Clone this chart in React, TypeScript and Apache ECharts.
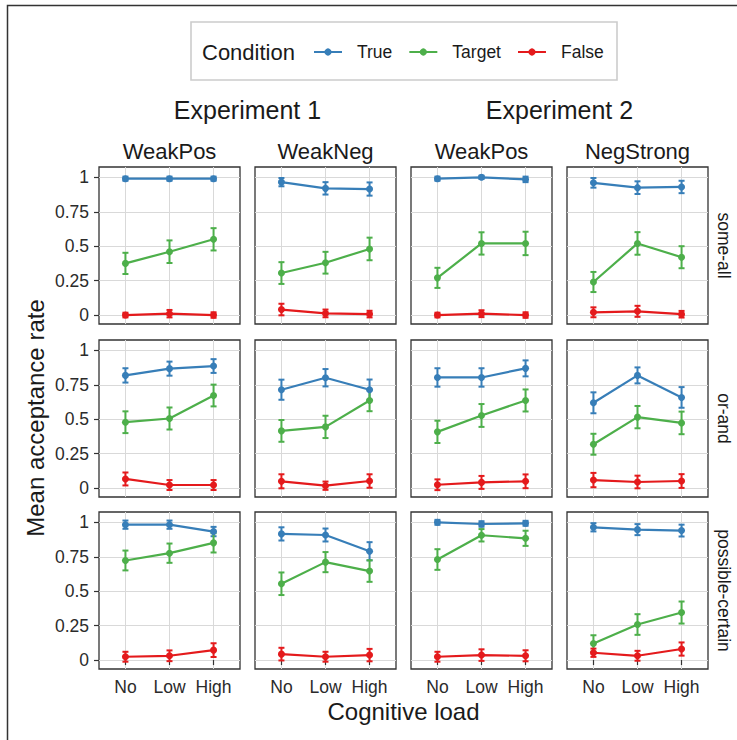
import React, { useEffect, useRef } from "react";
import * as echarts from "echarts";

// ---------- data ----------
const loads = ["No", "Low", "High"];
const experiments = ["Experiment 1", "Experiment 2"];
const panelTitles = ["WeakPos", "WeakNeg", "WeakPos", "NegStrong"];
const rowLabels = ["some-all", "or-and", "possible-certain"];
const conditions = ["True", "Target", "False"];
const yTicks = [0, 0.25, 0.5, 0.75, 1];

// [row][panel][load]
const trueMean = [
  [[0.99, 0.99, 0.99], [0.965, 0.92, 0.915], [0.99, 1.0, 0.985], [0.96, 0.925, 0.93]],
  [[0.818, 0.867, 0.886], [0.714, 0.801, 0.714], [0.803, 0.803, 0.869], [0.619, 0.818, 0.658]],
  [[0.983, 0.983, 0.933], [0.916, 0.908, 0.79], [1.0, 0.988, 0.993], [0.964, 0.947, 0.94]],
];
const trueErr = [
  [[0.015, 0.015, 0.015], [0.03, 0.045, 0.048], [0.015, 0.012, 0.02], [0.035, 0.046, 0.045]],
  [[0.052, 0.051, 0.05], [0.073, 0.063, 0.074], [0.067, 0.067, 0.058], [0.076, 0.058, 0.075]],
  [[0.03, 0.03, 0.034], [0.048, 0.047, 0.066], [0.018, 0.02, 0.018], [0.03, 0.04, 0.043]],
];
const targetMean = [
  [[0.375, 0.46, 0.55], [0.305, 0.38, 0.48], [0.27, 0.52, 0.52], [0.24, 0.52, 0.42]],
  [[0.478, 0.505, 0.672], [0.415, 0.444, 0.636], [0.408, 0.527, 0.636], [0.318, 0.515, 0.473]],
  [[0.723, 0.776, 0.851], [0.554, 0.711, 0.646], [0.73, 0.906, 0.884], [0.12, 0.258, 0.345]],
];
const targetErr = [
  [[0.077, 0.082, 0.081], [0.079, 0.079, 0.082], [0.073, 0.081, 0.085], [0.073, 0.082, 0.08]],
  [[0.079, 0.08, 0.079], [0.079, 0.081, 0.078], [0.081, 0.083, 0.08], [0.076, 0.081, 0.082]],
  [[0.072, 0.07, 0.07], [0.082, 0.073, 0.078], [0.075, 0.045, 0.055], [0.06, 0.075, 0.08]],
];
const falseMean = [
  [[0.0, 0.01, 0.0], [0.04, 0.012, 0.007], [0.0, 0.01, 0.0], [0.02, 0.027, 0.006]],
  [[0.066, 0.022, 0.022], [0.049, 0.017, 0.051], [0.024, 0.041, 0.049], [0.058, 0.044, 0.051]],
  [[0.024, 0.031, 0.072], [0.043, 0.024, 0.036], [0.024, 0.036, 0.031], [0.053, 0.031, 0.08]],
];
const falseErr = [
  [[0.017, 0.027, 0.02], [0.042, 0.028, 0.024], [0.017, 0.025, 0.02], [0.036, 0.04, 0.024]],
  [[0.047, 0.036, 0.036], [0.051, 0.03, 0.049], [0.039, 0.047, 0.05], [0.052, 0.046, 0.05]],
  [[0.036, 0.039, 0.05], [0.046, 0.036, 0.045], [0.036, 0.042, 0.04], [0.03, 0.036, 0.048]],
];

// ---------- style / layout ----------
const colors = ["#377EB8", "#4DAF4A", "#E41A1C"];
const FONT = "Liberation Sans, Arial, Helvetica, sans-serif";
const colLeft = [99, 255, 411, 567];
const panelW = 141;
const rowTop = [167, 340, 512];
const panelH = 157;

function buildOption() {
  const grids: any[] = [];
  const xAxes: any[] = [];
  const yAxes: any[] = [];
  const series: any[] = [];
  const means = [trueMean, targetMean, falseMean];
  const errs = [trueErr, targetErr, falseErr];

  let idx = 0;
  for (let r = 0; r < 3; r++) {
    for (let c = 0; c < 4; c++) {
      grids.push({
        left: colLeft[c],
        top: rowTop[r],
        width: panelW,
        height: panelH,
        show: true,
        borderColor: "#333333",
        borderWidth: 1.3,
        backgroundColor: "#ffffff",
        containLabel: false,
      });
      const bottomRow = r === 2;
      const leftCol = c === 0;
      xAxes.push({
        type: "value",
        gridIndex: idx,
        min: 0.4,
        max: 3.6,
        axisLine: { show: false },
        axisTick: {
          show: bottomRow,
          customValues: [1, 2, 3],
          length: 5,
          lineStyle: { color: "#333333", width: 1.2 },
        },
        axisLabel: {
          show: bottomRow,
          customValues: [1, 2, 3],
          formatter: (v: number) => loads[Math.round(v) - 1] ?? "",
          fontSize: 17.5,
          fontFamily: FONT,
          color: "#2b2b2b",
          margin: 9,
        },
        splitLine: { show: true, lineStyle: { color: "#d9d9d9", width: 1 } },
      });
      yAxes.push({
        type: "value",
        gridIndex: idx,
        min: -0.065,
        max: 1.075,
        axisLine: { show: false },
        axisTick: {
          show: leftCol,
          customValues: yTicks,
          length: 5,
          lineStyle: { color: "#333333", width: 1.2 },
        },
        axisLabel: {
          show: leftCol,
          customValues: yTicks,
          formatter: (v: number) => String(v),
          fontSize: 17.5,
          fontFamily: FONT,
          color: "#2b2b2b",
          margin: 10,
        },
        splitLine: { show: true, lineStyle: { color: "#d9d9d9", width: 1 } },
      });

      for (let k = 0; k < 3; k++) {
        const m = means[k][r][c];
        const e = errs[k][r][c];
        const color = colors[k];
        series.push({
          type: "custom",
          name: conditions[k] + " error",
          xAxisIndex: idx,
          yAxisIndex: idx,
          silent: true,
          encode: { x: 0, y: [1, 2] },
          data: m.map((v, i) => [i + 1, v - e[i], v + e[i]]),
          renderItem: (params: any, api: any) => {
            const x = api.value(0);
            const top = api.coord([x, api.value(2)]);
            const bot = api.coord([x, api.value(1)]);
            const hw = 3;
            const style = { stroke: color, lineWidth: 2 };
            return {
              type: "group",
              children: [
                { type: "line", shape: { x1: top[0], y1: top[1], x2: bot[0], y2: bot[1] }, style },
                { type: "line", shape: { x1: top[0] - hw, y1: top[1], x2: top[0] + hw, y2: top[1] }, style },
                { type: "line", shape: { x1: bot[0] - hw, y1: bot[1], x2: bot[0] + hw, y2: bot[1] }, style },
              ],
            };
          },
        });
        series.push({
          type: "line",
          name: conditions[k],
          xAxisIndex: idx,
          yAxisIndex: idx,
          data: m.map((v, i) => [i + 1, v]),
          symbol: "circle",
          symbolSize: 7,
          showSymbol: true,
          silent: true,
          lineStyle: { color, width: 2.2 },
          itemStyle: { color },
          emphasis: { disabled: true },
        });
      }
      idx++;
    }
  }

  const graphics: any[] = [
    {
      type: "rect",
      shape: { x: 7.5, y: 5.5, width: 800, height: 800 },
      style: { fill: "none", stroke: "#333333", lineWidth: 1.5 },
      silent: true,
    },
    {
      type: "rect",
      shape: { x: 191, y: 22, width: 426, height: 58 },
      style: { fill: "#ffffff", stroke: "#cccccc", lineWidth: 1.6 },
      silent: true,
    },
    {
      type: "text",
      x: 202,
      y: 52,
      style: {
        text: "Condition",
        fontSize: 22,
        fontFamily: FONT,
        fill: "#1a1a1a",
        textAlign: "left",
        textVerticalAlign: "middle",
      },
    },
    {
      type: "text",
      x: 35,
      y: (rowTop[0] + rowTop[2] + panelH) / 2,
      rotation: Math.PI / 2,
      style: {
        text: "Mean acceptance rate",
        fontSize: 24,
        fontFamily: FONT,
        fill: "#1a1a1a",
        textAlign: "center",
        textVerticalAlign: "middle",
      },
    },
    {
      type: "text",
      x: (colLeft[0] + colLeft[3] + panelW) / 2,
      y: 711,
      style: {
        text: "Cognitive load",
        fontSize: 24,
        fontFamily: FONT,
        fill: "#1a1a1a",
        textAlign: "center",
        textVerticalAlign: "middle",
      },
    },
  ];
  experiments.forEach((t, i) => {
    graphics.push({
      type: "text",
      x: (colLeft[i * 2] + colLeft[i * 2 + 1] + panelW) / 2,
      y: 109.5,
      style: {
        text: t,
        fontSize: 25,
        fontFamily: FONT,
        fill: "#1a1a1a",
        textAlign: "center",
        textVerticalAlign: "middle",
      },
    });
  });
  panelTitles.forEach((t, i) => {
    graphics.push({
      type: "text",
      x: colLeft[i] + panelW / 2,
      y: 151,
      style: {
        text: t,
        fontSize: 22,
        fontFamily: FONT,
        fill: "#1a1a1a",
        textAlign: "center",
        textVerticalAlign: "middle",
      },
    });
  });
  rowLabels.forEach((t, i) => {
    graphics.push({
      type: "text",
      x: 724,
      y: rowTop[i] + panelH / 2,
      rotation: -Math.PI / 2,
      style: {
        text: t,
        fontSize: 17.5,
        fontFamily: FONT,
        fill: "#1a1a1a",
        textAlign: "center",
        textVerticalAlign: "middle",
      },
    });
  });

  return {
    animation: false,
    backgroundColor: "#ffffff",
    grid: grids,
    xAxis: xAxes,
    yAxis: yAxes,
    series,
    legend: {
      data: conditions,
      left: 313,
      top: 42,
      padding: 0,
      itemWidth: 28,
      itemHeight: 9,
      itemGap: 16,
      selectedMode: false,
      textStyle: {
        fontSize: 17.5,
        fontFamily: FONT,
        color: "#1a1a1a",
        padding: [0, 0, 0, 10],
        lineHeight: 20,
      },
    },
    graphic: graphics,
  };
}

export default function App() {
  const ref = useRef<HTMLDivElement>(null);
  useEffect(() => {
    if (!ref.current) return;
    const chart = echarts.init(ref.current, undefined, { renderer: "svg" });
    chart.setOption(buildOption() as any);
    return () => chart.dispose();
  }, []);
  return (
    <div
      ref={ref}
      style={{ position: "absolute", left: 0, top: 0, width: 737, height: 740, background: "#fff" }}
    />
  );
}
